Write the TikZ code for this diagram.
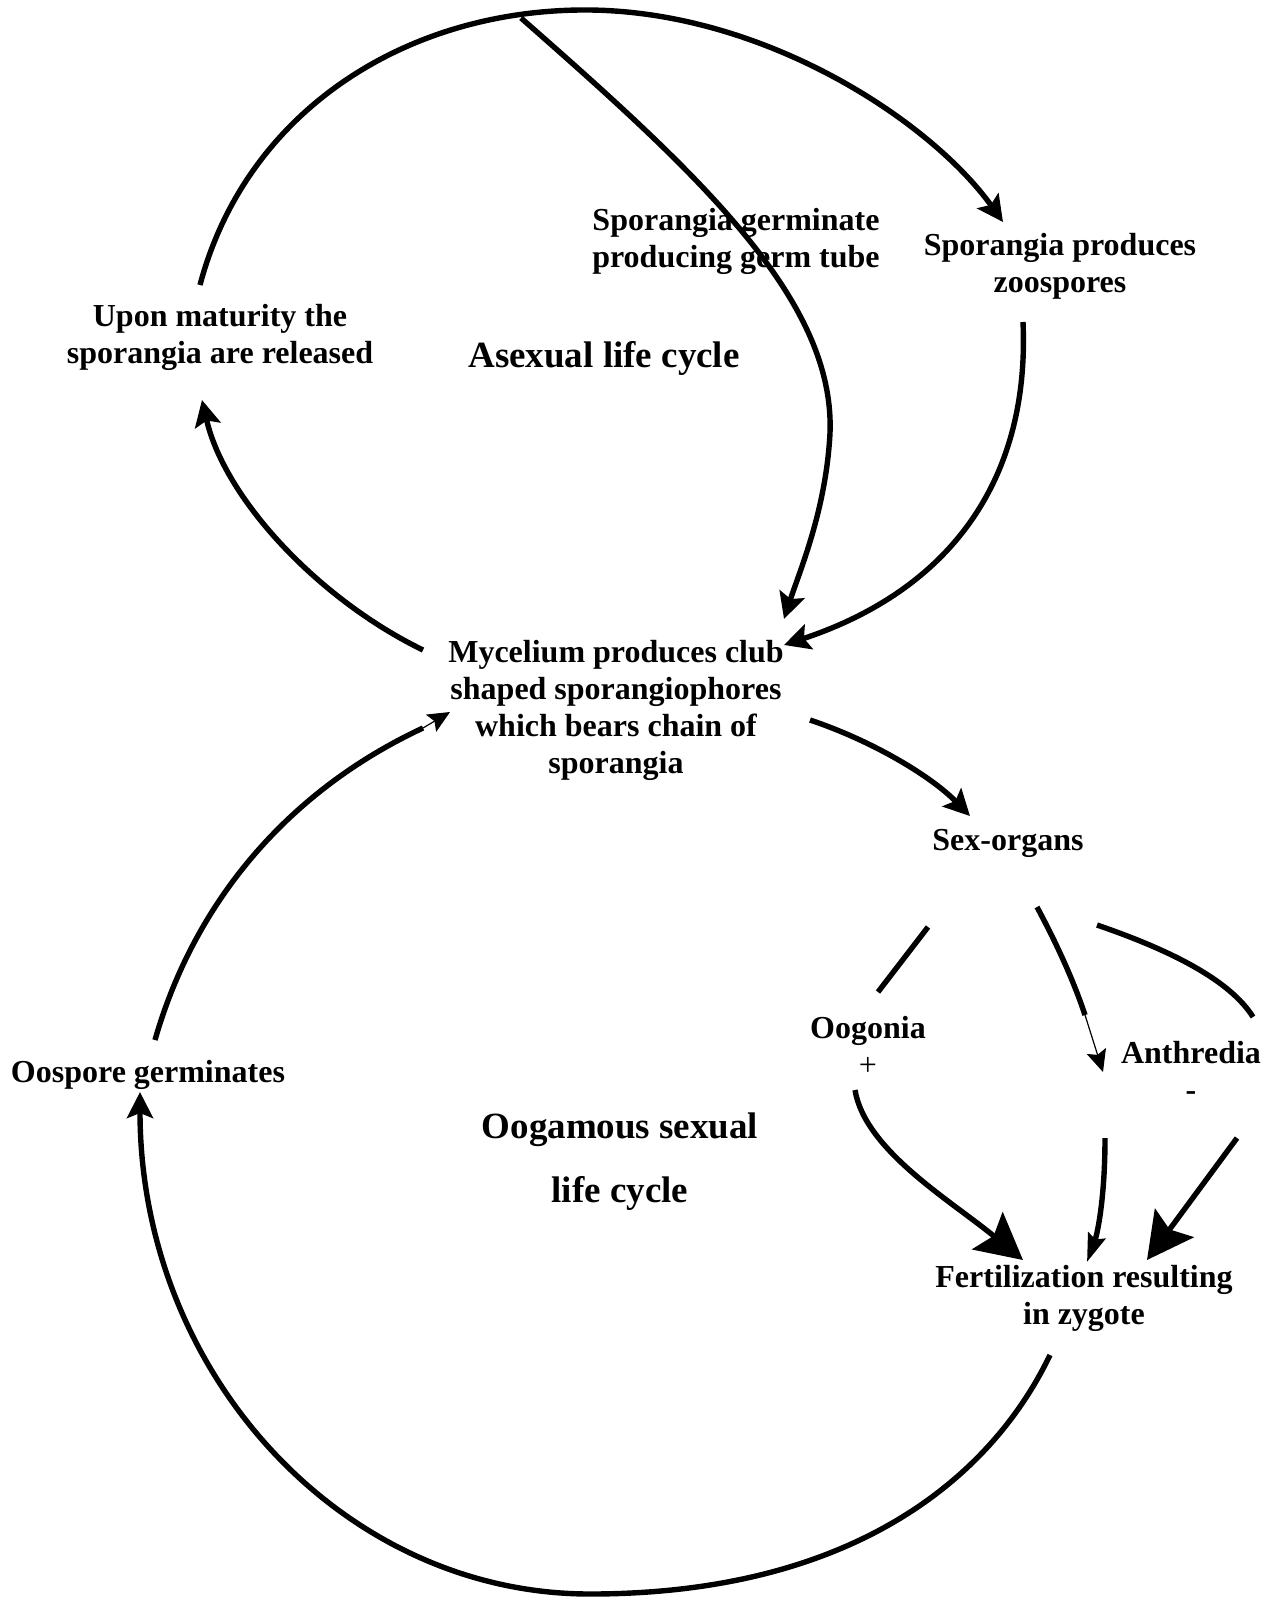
\documentclass[tikz,border=0pt]{standalone}
\usepackage{fontspec}
\setmainfont{Liberation Serif}
\usetikzlibrary{arrows.meta,calc}

\begin{document}
\begin{tikzpicture}[
    x=0.5pt, y=-0.5pt,
    stage/.style={font=\fontsize{16}{18.5}\selectfont\bfseries, align=center, inner sep=0pt},
    phase/.style={font=\fontsize{18.5}{22}\selectfont\bfseries, align=center, inner sep=0pt},
    link/.style={line width=2.7pt},
    arr/.style={link, -{Stealth[length=13pt, width=13pt, inset=2.5pt]}},
    bigarr/.style={link, -{Stealth[length=23pt, width=24pt, inset=4pt]}},
    thinarr/.style={line width=0.6pt, -{Stealth[length=11pt, width=10pt, inset=2pt]}},
  ]
  \useasboundingbox (0,0) rectangle (1281,1597);

  \node[stage] (upon)  at (220,337)  {Upon maturity the\\sporangia are released};
  \node[stage] (germ)  at (736,241)  {Sporangia germinate\\producing germ tube};
  \node[stage] (zoo)   at (1060,266) {Sporangia produces\\zoospores};
  \node[phase] (asex)  at (604,358)  {Asexual life cycle};
  \node[stage] (myc)   at (616,710)  {Mycelium produces club\\shaped sporangiophores\\which bears chain of\\sporangia};
  \node[stage] (sex)   at (1008,843) {Sex-organs};
  \node[stage] (oog)   at (868,1046) {Oogonia\\{\mdseries +}};
  \node[stage] (anth)  at (1191,1071) {Anthredia\\-};
  \node[stage] (oosp)  at (148,1075) {Oospore germinates};
  \node[phase, font=\fontsize{18.5}{32}\selectfont\bfseries] (oogam) at (620,1162) {Oogamous sexual\\life cycle};
  \node[stage] (fert)  at (1084,1298) {Fertilization resulting\\in zygote};

  % asexual loop
  \coordinate (tube) at (521,18);
  \draw[arr] ($(upon.center)+(-20,-52)$) .. controls (245,115) and (400,12) .. (580,10)
        .. controls (760,8) and (930,120) .. ($(zoo.center)+(-57,-44)$);
  \draw[arr] (tube) .. controls (700,175) and (835,300) .. (830,433)
        .. controls (826,510) and (800,570) .. ($(myc.center)+(168,-91)$);
  \draw[arr] ($(zoo.center)+(-37,56)$) .. controls (1030,480) and (950,590) .. ($(myc.center)+(168,-65)$);
  \draw[arr] ($(myc.center)+(-193,-60)$) .. controls (320,600) and (225,500) .. ($(upon.center)+(-18,63)$);

  % sexual loop
  \coordinate (ebreak) at (423,728);
  \draw[link] ($(oosp.center)+(7,-35)$) .. controls (195,900) and (290,790) .. (ebreak);
  \draw[thinarr] (ebreak) -- ($(myc.center)+(-166,2)$);
  \draw[arr] ($(myc.center)+(194,10)$) .. controls (870,740) and (930,775) .. ($(sex.center)+(-38,-27)$);
  \draw[link] ($(sex.center)+(-80,84)$) -- ($(oog.center)+(10,-54)$);
  \coordinate (ibreak) at (1085,1015);
  \draw[link] ($(sex.center)+(29,64)$) .. controls (1060,950) and (1075,985) .. (ibreak);
  \draw[thinarr] (ibreak) -- ($(anth.center)+(-88,1)$);
  \draw[link] ($(sex.center)+(89,82)$) .. controls (1170,950) and (1230,980) .. ($(anth.center)+(62,-54)$);
  \draw[bigarr] ($(oog.center)+(-13,44)$) .. controls (865,1150) and (950,1200) .. ($(fert.center)+(-61,-38)$);
  \draw[link, -{Stealth[length=14pt, width=9pt, inset=2pt]}] ($(anth.center)+(-86,67)$)
        .. controls (1105,1200) and (1097,1235) .. ($(fert.center)+(3,-36)$);
  \draw[bigarr] ($(anth.center)+(46,67)$) -- ($(fert.center)+(63,-38)$);
  \draw[arr] ($(fert.center)+(-34,57)$) .. controls (990,1480) and (850,1594) .. (590,1594)
        .. controls (342,1594) and (140,1373) .. ($(oosp.center)+(-8,17)$);
\end{tikzpicture}
\end{document}
